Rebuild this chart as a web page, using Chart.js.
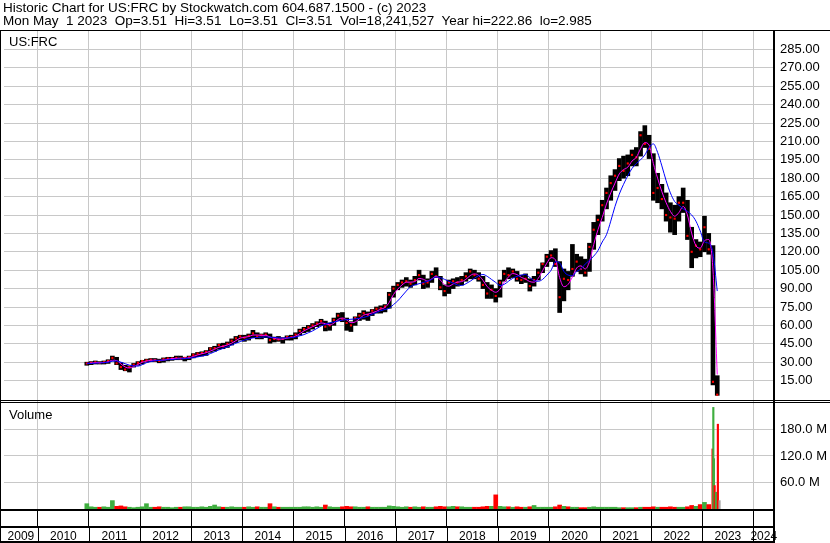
<!DOCTYPE html>
<html><head><meta charset="utf-8">
<script src="https://cdn.jsdelivr.net/npm/chart.js@4.4.1/dist/chart.umd.min.js"></script>
<style>
html,body{margin:0;padding:0;background:#fff;}
#wrap{position:relative;width:830px;height:543px;overflow:hidden;background:#fff;}
#c{position:absolute;left:0;top:0;}
.t{position:absolute;font-family:Arial,"Liberation Sans",sans-serif;font-size:13px;color:#000;white-space:pre;line-height:13px;}
.h{font-size:13.5px;line-height:14px;}
</style></head><body>
<div id="wrap">
<canvas id="c" width="830" height="543"></canvas>
<div class="t h" style="left:3px;top:1px">Historic Chart for US:FRC by Stockwatch.com 604.687.1500 - (c) 2023</div>
<div class="t h" style="left:3px;top:14px">Mon May  1 2023  Op=3.51  Hi=3.51  Lo=3.51  Cl=3.51  Vol=18,241,527  Year hi=222.86  lo=2.985</div>
<div class="t" style="left:9px;top:35px">US:FRC</div>
<div class="t" style="left:9px;top:408px">Volume</div>
</div>
<script>
// ---- categories (months, monthly bars) ----
const months = [
 '2010-12',
 '2011-01','2011-02','2011-03','2011-04','2011-05','2011-06','2011-07','2011-08','2011-09','2011-10','2011-11','2011-12',
 '2012-01','2012-02','2012-03','2012-04','2012-05','2012-06','2012-07','2012-08','2012-09','2012-10','2012-11','2012-12',
 '2013-01','2013-02','2013-03','2013-04','2013-05','2013-06','2013-07','2013-08','2013-09','2013-10','2013-11','2013-12',
 '2014-01','2014-02','2014-03','2014-04','2014-05','2014-06','2014-07','2014-08','2014-09','2014-10','2014-11','2014-12',
 '2015-01','2015-02','2015-03','2015-04','2015-05','2015-06','2015-07','2015-08','2015-09','2015-10','2015-11','2015-12',
 '2016-01','2016-02','2016-03','2016-04','2016-05','2016-06','2016-07','2016-08','2016-09','2016-10','2016-11','2016-12',
 '2017-01','2017-02','2017-03','2017-04','2017-05','2017-06','2017-07','2017-08','2017-09','2017-10','2017-11','2017-12',
 '2018-01','2018-02','2018-03','2018-04','2018-05','2018-06','2018-07','2018-08','2018-09','2018-10','2018-11','2018-12',
 '2019-01','2019-02','2019-03','2019-04','2019-05','2019-06','2019-07','2019-08','2019-09','2019-10','2019-11','2019-12',
 '2020-01','2020-02','2020-03','2020-04','2020-05','2020-06','2020-07','2020-08','2020-09','2020-10','2020-11','2020-12',
 '2021-01','2021-02','2021-03','2021-04','2021-05','2021-06','2021-07','2021-08','2021-09','2021-10','2021-11','2021-12',
 '2022-01','2022-02','2022-03','2022-04','2022-05','2022-06','2022-07','2022-08','2022-09','2022-10','2022-11','2022-12',
 '2023-01','2023-02','2023-03','2023-04'
];
const high = [
 30,
 30.5,31,30.5,31,32,35,34,29.5,27.5,27,29,30.5,
 31.5,32.5,33,33,32.5,33.5,34,34,35,35,34,35,
 37,38,38.5,39.5,42,43,45,45.5,46.5,49,51,52,
 52,53,56,54,53,54,53,50.5,51,50,51.5,52,
 54,57,58.5,60,61.5,63,65,63.5,62,66,70,70.5,
 66,63,67,70,72,71,73,75,76,77,87,92,
 95,97,99,97,100,105,101,98,104,107,100,93,
 97,98,99,100,103,106,105,103,100,95,93,90,
 97,105,107,106,104,101,102,98,100,106,111,118,
 121,122.5,112,106,104,126,118,116,114,127,144,150,
 162,172,182,187,196,198,199,203,205,218,222.86,215,
 200,184,175,168,160,158,165,172,162,140,130,128,
 149,135,125,19
];
const low = [
 27.5,
 28,28.5,28.5,28.5,29,31,28,24,23,22,26,27.5,
 28.5,30,30.5,30.5,29.5,30,31,31.5,32,32,31,32,
 33.5,34.5,35,35.5,38,39,40.5,41,42,44,46,48,
 47,48,50,49,49,50,45.5,46.5,47,45.5,48,48,
 49,52,54,55,57,59,60,55.5,56,60,64,63,
 56,55,60,64,65,64,68,70,70,71,74,83,
 89,91,92,91,93,97,90,91,95,99,89,84,
 86,90,92,93,96,98,98,96,90,82,82,79,
 83,96,98,99,96,94,95,88,92,97,103,108,
 112,108,70.5,80,89,100,104,102,100,104,122,134,
 145,155,162,170,178,180,182,190,190,198,205,196,
 162,160,155,145,136,134,145,152,130,107,115,116,
 120,118,11.5,2.985
];
const close = [
 29,
 29.5,30,29.5,30,31,33.5,29,26,24,26,28,29.5,
 31,31.5,32,31.5,31,32.5,33,33,33.5,33,33.5,34,
 36,37,37.5,38.5,41,41.5,44,43,45,47.5,49.5,51,
 50,51.5,53.5,51,52,52.5,48,49,48.5,49,50.5,50.5,
 52.5,55.5,57,58.5,60,61.5,63.5,59,60,64.5,68,65,
 62,60,66,68,70,68.5,72,73.5,74,75.5,85,90,
 93,95,96,94,97,101,94,95,102,100,91,88,
 95,96,95,97,100,104,101,98,93,86,89,84,
 95,102,101,104,98,97,98,92,97,103,110,116,
 117,110,83,98,97,106,112,106,103,124,138,146,
 158,168,176,182,190,186,192,199,197,215,208,204,
 168,172,163,150,148,147,160,160,133,120,125,122,
 140,122,14,3.51
];
// magenta (short) and blue (long) moving-average lines
const maShort = [
 29,
 29.3,29.6,29.7,29.8,30.3,31.6,31.3,28.6,26.1,25.3,26.4,28.2,
 29.9,30.9,31.6,31.7,31.4,31.7,32.4,32.9,33.2,33.2,33.3,33.6,
 34.7,35.9,36.9,37.7,39.1,40.5,42.2,43,44,45.5,47.6,49.6,
 50.3,50.9,52.1,52.2,51.9,51.9,50.5,49.5,48.8,48.9,49.6,50.2,
 51.2,53.3,55.6,57.3,58.9,60.4,62,61.4,60.5,61.8,64.9,66,
 64.5,62.2,62.8,65.4,68.4,69.2,70.2,71.5,73.3,74.6,78.8,85.2,
 89.6,93,95.2,95.3,95.7,98.3,97.6,96.2,98,100,97,93,
 92,93.8,95.3,95.7,97.6,100.6,102,100.7,96.8,91.6,88.7,87,
 89.5,95.3,99.5,102.3,101.4,99.2,97.7,95.7,95.2,98.5,104.6,110.8,
 115.2,113.5,99,91.5,93.5,99.5,106.8,108.5,106,112,126,138,
 148,159,168,176,183.5,187,189,194,197,204,209,207,
 192,180,169,160,153,149,152,157,150,135,125,123,
 129,130,105,20
];
const maLong = [
 29,
 29,29.2,29.4,29.6,30,30.8,31,30,28.8,27.6,27,26.8,
 28,29.6,30.5,31.2,31.5,31.7,32,32.2,32.5,32.7,32.9,33.2,
 33.7,34.3,35,35.8,37,38.5,40,41.3,42.5,44,45.5,46.8,
 48,49,49.8,50.2,50.4,50.6,50.4,50.1,49.9,49.7,49.8,50.1,
 50.5,51.5,52.5,54,55.5,57.5,59.5,61,62,62.8,63.5,64.3,
 64.7,65,65.3,65.8,66.5,67.5,69,70.5,72,73,74,77,
 80,84,88,91.5,93,94,95,96,97.5,99.5,99,97.5,
 96,94.5,93,92.5,94,96,98.5,100.5,101.5,100,97.5,95,
 92.5,93.5,96,98.5,100,101,101.5,99,96.5,96,97.5,101,
 105,112,111,104,101,100.5,104,106,110,113,116.5,121,
 128,134,145,157,167,175,182,188,192,195,199,205,
 208,201,190,178,168,161,158,155,153,150,145,137,
 128,127,119,88
];
// weekly-scale volume, millions
const volume = [
 12,
 5,4,4,5,4,19,6,7,5,4,3,4,
 5,12,4,4,5,4,4,3,4,4,5,5,
 4,4,5,4,6,9,5,4,4,5,4,4,
 4,5,4,5,4,4,12,5,4,4,4,4,
 4,4,5,5,4,5,4,9,5,4,4,5,
 6,5,5,4,4,5,4,4,4,4,7,6,
 5,4,5,4,5,4,5,4,4,5,6,5,
 5,6,5,5,4,4,4,4,5,6,6,32,
 6,5,5,4,5,4,4,5,8,4,4,4,
 4,5,9,6,5,4,4,3,3,4,5,4,
 4,4,4,4,3,3,3,3,3,4,4,4,
 5,4,4,4,5,4,4,4,5,8,6,10,
 15,10,null,null
];
// March-April 2023 weekly volume spikes
const spikeDates = [2023.200, 2023.215, 2023.227, 2023.240, 2023.265, 2023.304, 2023.337];
const spikeVolume = [136, 230, 114, 53, 38, 192, 19];
const spikeDir = ['d','u','u','d','u','d','n'];
// tick labels
const priceTicks = [15,30,45,60,75,90,105,120,135,150,165,180,195,210,225,240,255,270,285];
const volumeTicks = [60,120,180];
const years = [2009,2010,2011,2012,2013,2014,2015,2016,2017,2018,2019,2020,2021,2022,2023,2024];

const X_MIN = 2009.338, X_MAX = 2024.402;
const FONT = 'Arial, "Liberation Sans", sans-serif';
const GREEN = '#3fae3f', RED = '#ff0000', GREY = '#a8a8a8';

const xs = months.map(m => { const [y, mo] = m.split('-').map(Number); return y + (mo - 0.5) / 12; });
const yearCenters = years.map(y => y === 2009 ? (X_MIN + 2010) / 2 : (y === 2024 ? (2024 + X_MAX) / 2 : y + 0.5));
const yearLines = years.slice(1);

const priceBars = xs.map((x, i) => ({x, y: [low[i], high[i]]}));
const closePts = xs.map((x, i) => ({x, y: close[i]}));
const shortPts = xs.map((x, i) => ({x, y: maShort[i]}));
const longPts = xs.map((x, i) => ({x, y: maLong[i]}));
const volPts = xs.map((x, i) => ({x, y: volume[i]}));
const volColors = close.map((c, i) => (i === 0 || c >= close[i - 1]) ? GREEN : RED);
const spikePts = spikeDates.map((x, i) => ({x, y: spikeVolume[i]}));
const spikeColors = spikeDir.map(d => d === 'u' ? GREEN : (d === 'd' ? RED : GREY));

const framePlugin = {
  id: 'frame',
  afterDraw(chart) {
    const ctx = chart.ctx, a = chart.chartArea, W = chart.width, H = chart.height;
    const xsc = chart.scales.x, yp = chart.scales.y;
    ctx.save();
    ctx.fillStyle = '#000';
    ctx.fillRect(0, a.top - 1, W, 1);                 // header rule
    ctx.fillRect(0, Math.round(yp.bottom) + 1, W, 1); // panel separator (double)
    ctx.fillRect(0, Math.round(yp.bottom) + 3, W, 1);
    ctx.fillRect(0, a.bottom, a.right, 2);            // volume panel bottom
    const xg = chart.scales.xg;
    ctx.fillRect(0, xg.bottom, a.right, 2);           // label row top
    ctx.fillRect(0, H - 2, a.right, 2);               // bottom rule
    ctx.fillRect(0, a.top - 1, 1, H - a.top + 1);     // left border
    ctx.fillRect(a.right - 1, a.top - 1, 2, H - a.top + 1); // right border
    for (const y of yearLines) {
      const px = Math.round(xsc.getPixelForValue(y));
      if (px < a.right - 2) ctx.fillRect(px, xg.bottom + 2, 1, H - xg.bottom - 4);
    }
    ctx.restore();
  }
};

const noPadX = s => { s.height = 17; s.paddingLeft = 0; s.paddingRight = 0; };

new Chart(document.getElementById('c'), {
  type: 'line',
  data: {
    datasets: [
      {type: 'line', data: longPts, xAxisID: 'x', yAxisID: 'y', borderColor: '#0000ff', borderWidth: 1,
       pointRadius: 0, cubicInterpolationMode: 'monotone', order: 1},
      {type: 'line', data: shortPts, xAxisID: 'x', yAxisID: 'y', borderColor: '#ff00ff', borderWidth: 1,
       pointRadius: 0, cubicInterpolationMode: 'monotone', order: 2},
      {type: 'line', data: closePts, xAxisID: 'x', yAxisID: 'y', showLine: false, pointStyle: 'rect',
       pointRadius: 1.5, pointBorderWidth: 0, pointBackgroundColor: RED, order: 3},
      {type: 'bar', data: priceBars, xAxisID: 'x', yAxisID: 'y', backgroundColor: '#000', barThickness: 4,
       stack: 'a', borderWidth: 0, order: 4},
      {type: 'bar', data: volPts, xAxisID: 'x', yAxisID: 'yv', backgroundColor: volColors, barThickness: 4,
       stack: 'a', borderWidth: 0, order: 5},
      {type: 'bar', data: spikePts, xAxisID: 'x', yAxisID: 'yv', backgroundColor: spikeColors, barThickness: 1.5,
       stack: 'a', borderWidth: 0, order: 4.5}
    ]
  },
  options: {
    responsive: false, animation: false, devicePixelRatio: 1, events: [],
    layout: {padding: {top: 31, left: 0, right: 0, bottom: 0}},
    plugins: {legend: {display: false}, tooltip: {enabled: false}},
    scales: {
      xg: {
        type: 'linear', position: 'bottom', min: X_MIN, max: X_MAX, offset: false,
        afterBuildTicks: s => { s.ticks = yearLines.map(v => ({value: v})); },
        afterFit: noPadX,
        ticks: {display: false},
        grid: {color: '#c8c8c8', lineWidth: 1, drawTicks: true, tickLength: 17, tickColor: '#000', offset: false},
        border: {display: false}
      },
      x: {
        type: 'linear', position: 'bottom', min: X_MIN, max: X_MAX, offset: false,
        afterBuildTicks: s => { s.ticks = yearCenters.map(v => ({value: v})); },
        afterFit: noPadX,
        ticks: {autoSkip: false, maxRotation: 0, padding: 3, color: '#000',
                font: {family: FONT, size: 12}, callback: v => String(Math.floor(v))},
        grid: {display: false, drawTicks: false, offset: false},
        border: {display: false}
      },
      y: {
        type: 'linear', position: 'right', stack: 'panels', stackWeight: 368, min: 0, max: 300,
        afterBuildTicks: s => { s.ticks = priceTicks.map(v => ({value: v})); },
        afterFit: s => { s.width = 56; },
        ticks: {autoSkip: false, padding: 6, color: '#000', font: {family: FONT, size: 13}, callback: v => v.toFixed(2)},
        grid: {color: '#c8c8c8', drawTicks: false},
        border: {display: false}
      },
      yv: {
        type: 'linear', position: 'right', stack: 'panels', stackWeight: 110, min: 0, max: 249,
        afterBuildTicks: s => { s.ticks = volumeTicks.map(v => ({value: v})); },
        afterFit: s => { s.width = 56; },
        ticks: {autoSkip: false, padding: 6, color: '#000', font: {family: FONT, size: 13}, callback: v => v.toFixed(1) + ' M'},
        grid: {color: '#c8c8c8', drawTicks: false},
        border: {display: false}
      }
    }
  },
  plugins: [framePlugin]
});
</script>
</body></html>
